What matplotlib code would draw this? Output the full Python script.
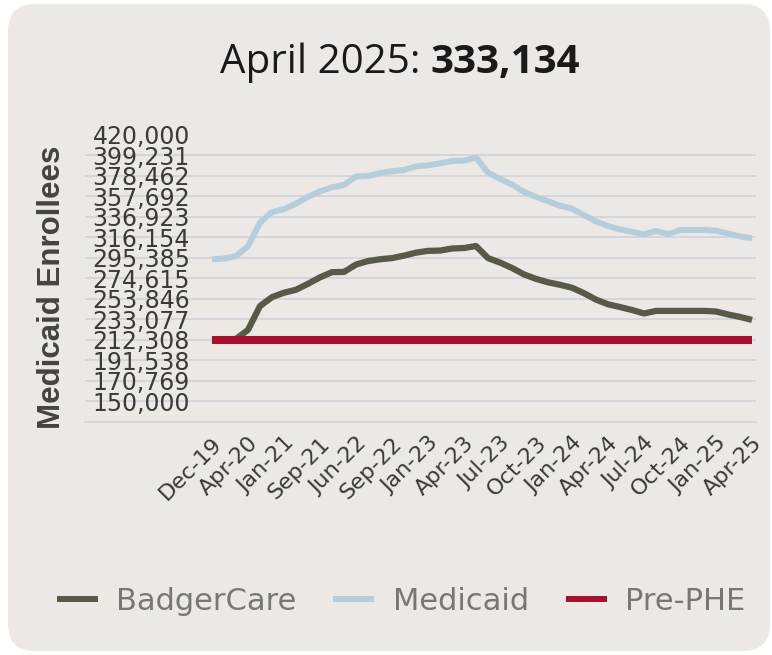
import matplotlib
matplotlib.use("Agg")
import matplotlib.pyplot as plt
from matplotlib.patches import FancyBboxPatch

# category axis: one label every 3 points
tick_labels = ["Dec-19", "Apr-20", "Jan-21", "Sep-21", "Jun-22", "Sep-22", "Jan-23", "Apr-23",
               "Jul-23", "Oct-23", "Jan-24", "Apr-24", "Jul-24", "Oct-24", "Jan-25", "Apr-25"]
label_step = 3

badgercare = [212300, 212600, 213200, 222400, 246500, 255500, 260000, 263000, 269000, 275500,
              280800, 281000, 288500, 292000, 293800, 295000, 297500, 300500, 302300, 302600,
              304700, 305200, 307200, 295000, 290500, 285000, 278500, 274000, 270500, 268000,
              265000, 259500, 253000, 248300, 245500, 242500, 239000, 241600, 241600, 241600,
              241600, 241600, 241000, 238000, 235500, 232500]

medicaid = [293800, 294500, 297000, 307000, 331000, 341500, 344500, 350000, 357000, 362500,
            366500, 369000, 377500, 378000, 381000, 382800, 384000, 387800, 388800, 390800,
            393200, 393500, 396800, 381500, 375000, 369500, 362000, 357000, 352500, 348000,
            345000, 338500, 332000, 327500, 324000, 321500, 319000, 322500, 319200, 323300,
            323400, 323400, 322800, 319800, 317000, 315000]

pre_phe_level = 212308

y_ticks = [150000, 170769, 191538, 212308, 233077, 253846, 274615, 295385,
           316154, 336923, 357692, 378462, 399231, 420000]
y_bottom = 129231

title_month = "April 2025: "
title_value = "333,134"

BG = "#ece8e5"
DARK = "#575a48"
BLUE = "#b6cddb"
RED = "#a6102e"
GRID = "#d4d4dc"

W, H = 772, 655
fig = plt.figure(figsize=(W / 100, H / 100), dpi=100)
fig.patch.set_facecolor("white")

panel = FancyBboxPatch((8 / W, 4 / H), (W - 10) / W, (H - 8) / H,
                       boxstyle="round,pad=0,rounding_size=0.035",
                       transform=fig.transFigure, facecolor=BG, edgecolor="none",
                       mutation_aspect=W / H, zorder=-5)
fig.patches.append(panel)

ax = fig.add_axes([85 / W, 1 - 422 / H, 671 / W, 287.5 / H])
ax.set_facecolor("none")
ax.set_zorder(2)

n = len(medicaid)
xs = list(range(n))
pre_phe = [pre_phe_level] * n

for v in y_ticks[:-1]:
    ax.axhline(v, color=GRID, lw=1.3, zorder=1)

ax.plot(xs, badgercare, color=DARK, lw=4.5, solid_capstyle="butt", zorder=3, label="BadgerCare")
ax.plot(xs, medicaid, color=BLUE, lw=4.3, solid_capstyle="butt", zorder=3, label="Medicaid")
ax.plot(xs, pre_phe, color=RED, lw=5.8, solid_capstyle="butt", zorder=4, label="Pre-PHE")

ax.set_xlim(-127 / 12, n - 1 + 4 / 12)
ax.set_ylim(y_bottom, y_ticks[-1])

# labels sit inside the axes, right edge ~105 px from its left side
ax.set_yticks(y_ticks, [f"{v:,}" for v in y_ticks])
ax.tick_params(axis="y", length=0, pad=-105 * 0.72, labelsize=17, labelcolor="#3a3a3a")
for t in ax.get_yticklabels():
    t.set_horizontalalignment("right")

ax.set_xticks(xs[::label_step], tick_labels)
ax.tick_params(axis="x", length=0, pad=8, labelsize=16, labelcolor="#3a3a3a")
for t in ax.get_xticklabels():
    t.set_rotation(45)
    t.set_rotation_mode("anchor")
    t.set_horizontalalignment("right")
    t.set_verticalalignment("top")

for s in ["top", "left", "right"]:
    ax.spines[s].set_visible(False)
ax.spines["bottom"].set_color(GRID)
ax.spines["bottom"].set_linewidth(1.3)

# title: regular month + bold number
t1 = fig.text(0, 1 - 73 / H, title_month, fontsize=29, family="Open Sans", color="#1a1a1a",
              ha="left", va="baseline")
t2 = fig.text(0, 1 - 73 / H, title_value, fontsize=29, family="Open Sans", fontweight="bold",
              color="#1a1a1a", ha="left", va="baseline")
fig.canvas.draw()
r = fig.canvas.get_renderer()
w1 = t1.get_window_extent(r).width
w2 = t2.get_window_extent(r).width
x0 = 400 - (w1 + w2) / 2
t1.set_x(x0 / W)
t2.set_x((x0 + w1) / W)

fig.text(52 / W, 1 - 287 / H, "Medicaid Enrollees", rotation=90, fontsize=22.5,
         family="Liberation Sans", fontweight="bold",
         color="#444444", ha="center", va="center")

handles, labels = ax.get_legend_handles_labels()
leg = fig.legend(handles, labels, loc="center", bbox_to_anchor=(401 / W, 1 - 601 / H),
                 ncol=3, frameon=False, fontsize=22, handlelength=1.35,
                 handletextpad=0.6, columnspacing=1.2)
for h in leg.legend_handles:
    h.set_linewidth(4.3)
for t in leg.get_texts():
    t.set_color("#777777")

fig.savefig("out.png", dpi=100, facecolor=fig.get_facecolor())
